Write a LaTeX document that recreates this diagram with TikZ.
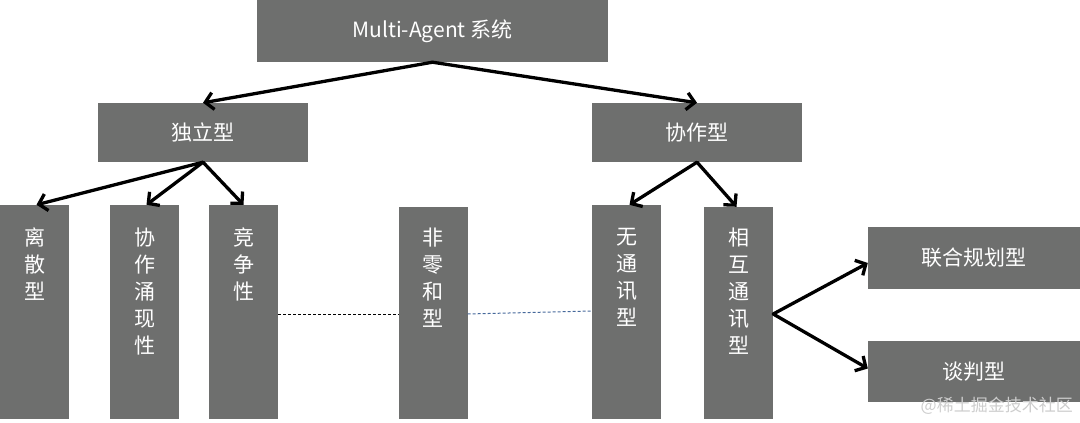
\documentclass[tikz,border=0pt]{standalone}
\usepackage{fontspec}
\setmainfont{Noto Sans CJK SC}
\usetikzlibrary{arrows.meta}
\definecolor{boxgray}{RGB}{110,111,110}
\definecolor{dashblue}{RGB}{70,105,155}
\definecolor{markgray}{RGB}{205,205,205}

\begin{document}
\begin{tikzpicture}[x=1pt,y=-1pt,
    hbox/.style={fill=boxgray,text=white,inner sep=0pt,font=\fontsize{21}{25}\selectfont},
    vbox/.style={fill=boxgray,inner sep=0pt,minimum width=69pt,minimum height=214pt},
    vtext/.style={text=white,inner sep=0pt,align=center,anchor=north,font=\fontsize{21}{27}\selectfont},
    branch/.style={-{Straight Barb[length=8pt,width=17pt]},line width=3.3pt,line cap=round,line join=round}]
  \useasboundingbox (0,0) rectangle (1080,423);

  %------------------
  % 上段
  %------------------
  \node[hbox,minimum width=351pt,minimum height=62pt] (sys) at (432.5,31) {Multi-Agent 系统};
  \node[hbox,minimum width=210pt,minimum height=59pt] (duli) at (203,132.5) {独立型};
  \node[hbox,minimum width=210pt,minimum height=59pt] (xiezuo) at (697,132.5) {协作型};

  %------------------
  % 縦の箱
  %------------------
  \node[vbox] (lisan) at (34.5,312) {};
  \node[vtext] (lisant) at ([yshift=-23pt]lisan.north) {离\\散\\型};
  \node[vbox] (yongxian) at (144.5,312) {};
  \node[vtext] (yongxiant) at ([yshift=-23pt]yongxian.north) {协\\作\\涌\\现\\性};
  \node[vbox] (jingzheng) at (243.5,312) {};
  \node[vtext] (jingzhengt) at ([yshift=-23pt]jingzheng.north) {竞\\争\\性};
  \node[vbox,minimum height=212pt] (feiling) at (433,313) {};
  \node[vtext] (feilingt) at ([yshift=-21pt]feiling.north) {非\\零\\和\\型};
  \node[vbox] (wutong) at (626.5,312) {};
  \node[vtext] (wutongt) at ([yshift=-23pt]wutong.north) {无\\通\\讯\\型};
  \node[vbox,minimum height=212pt] (huxiang) at (738.5,313) {};
  \node[vtext] (huxiangt) at ([yshift=-21pt]huxiang.north) {相\\互\\通\\讯\\型};

  %------------------
  % 右の箱
  %------------------
  \node[hbox,minimum width=212pt,minimum height=62pt] (lianhe) at (974,258) {联合规划型};
  \node[hbox,minimum width=212pt,minimum height=61pt] (tanpan) at (974,371.5) {谈判型};

  %------------------
  % 矢印
  %------------------
  \draw[branch] (sys.south) -- (duli.north);
  \draw[branch] (sys.south) -- (xiezuo.north);
  \draw[branch] (duli.south) -- ([xshift=2pt]lisan.north);
  \draw[branch] (duli.south) -- ([xshift=2pt]yongxian.north);
  \draw[branch] (duli.south) -- (jingzheng.north);
  \draw[branch] (xiezuo.south) -- ([xshift=3pt]wutong.north);
  \draw[branch] (xiezuo.south) -- ([xshift=-2pt]huxiang.north);
  \draw[branch] ([yshift=-1pt]huxiang.east) -- ([yshift=-5pt]lianhe.west);
  \draw[branch] ([yshift=-1pt]huxiang.east) -- ([yshift=3pt]tanpan.west);

  % 点線
  \draw[line width=1pt,dash pattern=on 3pt off 2pt] ([yshift=-2pt]jingzheng.east) -- ([yshift=-1pt]feiling.west);
  \draw[dashblue,line width=1pt,dash pattern=on 3pt off 2pt] ([yshift=-1pt]feiling.east) -- ([yshift=1pt]wutong.west);

  % 透かし
  \node[text=markgray,inner sep=0pt,anchor=east,font=\fontsize{17}{17}\selectfont] (mark) at (1073,406) {@稀土掘金技术社区};
\end{tikzpicture}
\end{document}
